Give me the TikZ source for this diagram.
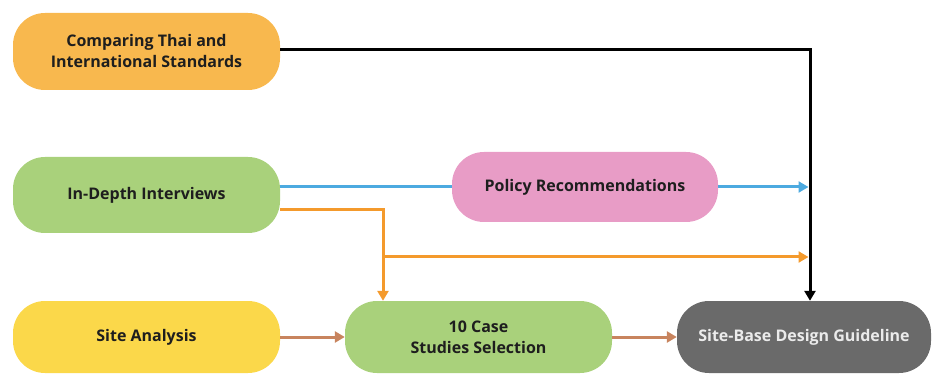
\documentclass[tikz,border=0pt]{standalone}
\usepackage{fontspec}
\setmainfont{Open Sans}
\usetikzlibrary{arrows.meta}
\definecolor{cOrange}{HTML}{F8B84E}
\definecolor{cGreen}{HTML}{A9D17B}
\definecolor{cPink}{HTML}{E89CC6}
\definecolor{cYellow}{HTML}{FBD84A}
\definecolor{cGray}{HTML}{6A6A6A}
\definecolor{cText}{HTML}{1E1E1E}
\definecolor{lBlue}{HTML}{4CAAE0}
\definecolor{lOrange}{HTML}{F49A2C}
\definecolor{lBrown}{HTML}{C8845E}
\tikzset{
  box/.style={rounded corners=32pt, inner sep=0pt, align=center,
    font=\fontsize{16}{21}\selectfont\bfseries, text=cText},
  conn/.style={line width=3pt},
  arr/.style={conn, -{Triangle[width=11pt,length=10pt]}},
}
\begin{document}
\begin{tikzpicture}[x=1pt,y=-1pt]
\useasboundingbox (0,0) rectangle (932,374);
\node[box, fill=cOrange, minimum width=267pt, minimum height=77pt] (cmp) at (146.5,51.5) {Comparing Thai and\\International Standards};
\node[box, fill=cGreen, minimum width=267pt, minimum height=76pt] (idi) at (146.5,195) {In-Depth Interviews};
\node[box, fill=cPink, minimum width=266pt, minimum height=70pt] (pol) at (585,187) {Policy Recommendations};
\node[box, fill=cYellow, minimum width=267pt, minimum height=72pt] (sa) at (146.5,337) {Site Analysis};
\node[box, fill=cGreen, minimum width=267pt, minimum height=72pt] (cs) at (478.5,337) {10 Case\\Studies Selection};
\node[box, fill=cGray, text=white!92!black, minimum width=254pt, minimum height=72pt] (sb) at (804,337) {Site-Base Design Guideline};
\coordinate (bx) at (810,0);
\coordinate (ox) at (383,0);
\coordinate (oy) at (0,257);
% black
\draw[arr, black] (cmp.east |- 0,50) -| (bx |- sb.north);
% blue
\draw[conn, lBlue] (idi.east |- pol.west) -- (pol.west);
\draw[arr, lBlue] (pol.east) -- ([xshift=-1.5pt]bx |- pol.east);
% orange
\draw[arr, lOrange] (idi.east |- 0,210) -| (ox |- cs.north);
\draw[arr, lOrange] (ox |- oy) -- ([xshift=-1.5pt]bx |- oy);
% brown
\draw[arr, lBrown] (sa.east) -- (cs.west);
\draw[arr, lBrown] (cs.east) -- (sb.west);
\end{tikzpicture}
\end{document}
